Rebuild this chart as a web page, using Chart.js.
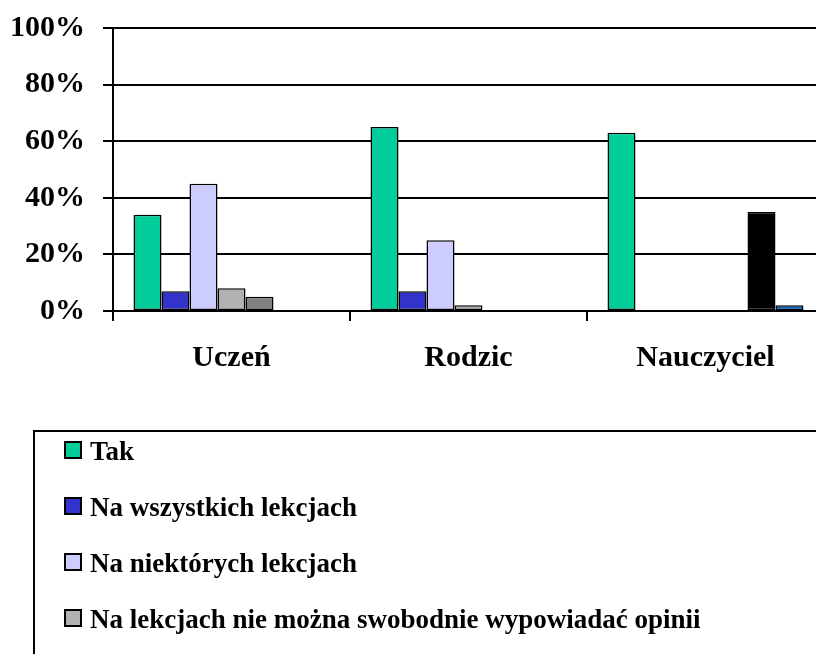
<!DOCTYPE html>
<html>
<head>
<meta charset="utf-8">
<script src="https://cdn.jsdelivr.net/npm/chart.js@4/dist/chart.umd.min.js"></script>
<style>
  html, body { margin: 0; padding: 0; background: #fff; overflow: hidden; }
  #c { display: block; }
</style>
</head>
<body>
<canvas id="c" width="840" height="654"></canvas>
<script>
const categories = ['Uczeń', 'Rodzic', 'Nauczyciel']
const seriesNames = [
  'Tak',
  'Na wszystkich lekcjach',
  'Na niektórych lekcjach',
  'Na lekcjach nie można swobodnie wypowiadać opinii',
  'Nie wiem',
  'Nie dotyczy',
  'Brak odpowiedzi'
]
const tak = [34, 65, 63]
const wszystkie = [7, 7, null]
const niektore = [45, 25, null]
const nieMozna = [8, 2, null]
const nieWiem = [5, null, null]
const nieDotyczy = [null, null, 35]
const brak = [null, null, 2]
const yTicks = [0, 20, 40, 60, 80, 100]

const colors = ['#00CC99', '#3333CC', '#CCCCFF', '#B2B2B2', '#808080', '#000000', '#0066CC']
const values = [tak, wszystkie, niektore, nieMozna, nieWiem, nieDotyczy, brak]

const FONT = '"Liberation Serif", "Times New Roman", serif'

// legend drawn in a box that runs off the page, like the original
const boxLegend = {
  id: 'boxLegend',
  afterDraw(chart) {
    const ctx = chart.ctx
    ctx.save()
    ctx.strokeStyle = '#000'
    ctx.lineWidth = 2
    ctx.strokeRect(34, 431, 1000, 500)
    ctx.font = 'bold 27px ' + FONT
    ctx.textBaseline = 'alphabetic'
    chart.data.datasets.forEach((ds, i) => {
      const base = 460 + i * 56
      ctx.fillStyle = ds.backgroundColor
      ctx.fillRect(65, base - 18, 16, 16)
      ctx.lineWidth = 2
      ctx.strokeStyle = '#000'
      ctx.strokeRect(65, base - 18, 16, 16)
      ctx.fillStyle = '#000'
      ctx.fillText(ds.label, 90, base)
    })
    ctx.restore()
  }
}

new Chart(document.getElementById('c'), {
  type: 'bar',
  data: {
    labels: categories,
    datasets: seriesNames.map((name, i) => ({
      label: name,
      data: values[i],
      backgroundColor: colors[i],
      borderColor: '#000',
      borderWidth: 1.5,
      borderSkipped: false,
      barPercentage: 1,
      categoryPercentage: 0.827
    }))
  },
  options: {
    responsive: false,
    animation: false,
    layout: { padding: { top: 28, right: 16, left: 0, bottom: 0 } },
    plugins: {
      legend: { display: false },
      tooltip: { enabled: false }
    },
    scales: {
      x: {
        offset: true,
        grid: { offset: true, drawOnChartArea: false, tickLength: 10, color: '#000', lineWidth: 2 },
        border: { color: '#000', width: 2 },
        ticks: { color: '#000', font: { family: FONT, size: 30, weight: 'bold' }, padding: 19 },
        afterFit(scale) { scale.height = 343 }
      },
      y: {
        min: 0,
        max: 100,
        afterBuildTicks(scale) { scale.ticks = yTicks.map(v => ({ value: v })) },
        grid: { color: '#000', lineWidth: 2, tickLength: 10 },
        border: { color: '#000', width: 2 },
        ticks: {
          color: '#000',
          font: { family: FONT, size: 30, weight: 'bold' },
          padding: 18,
          callback: v => v + '%'
        },
        afterFit(scale) {
          scale.width = 113
          scale.paddingTop = 0
          scale.paddingBottom = 0
        }
      }
    }
  },
  plugins: [boxLegend]
})
</script>
</body>
</html>
